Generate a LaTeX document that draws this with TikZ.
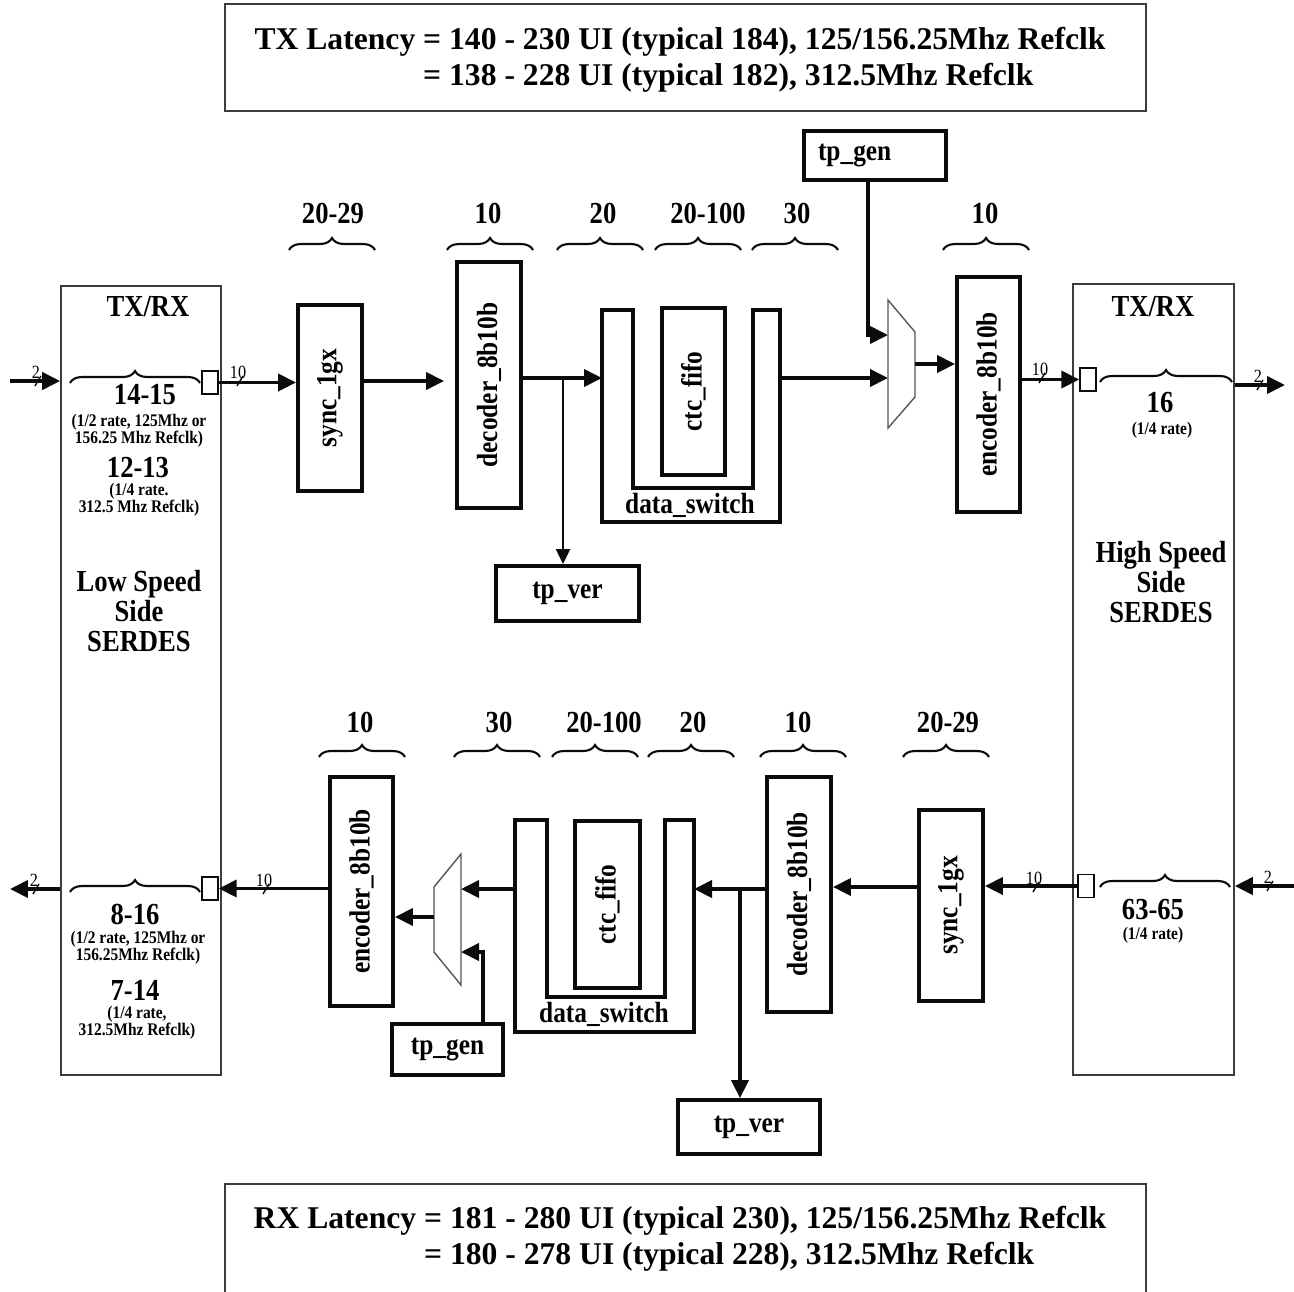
\documentclass[tikz,border=0pt]{standalone}
\usepackage{fontspec}
\setmainfont{Liberation Serif}
\newfontfamily\condfont{Liberation Serif}[FakeStretch=0.87]
\usetikzlibrary{arrows.meta,decorations.pathreplacing}
\definecolor{cink}{HTML}{0B0B0B}
\definecolor{cgray}{HTML}{555555}

\begin{document}
\begin{tikzpicture}[x=0.1mm, y=-0.1mm,
  blk/.style={draw=cink, line width=1.1pt, inner sep=0pt, font=\condfont\fontsize{8.3}{9}\selectfont\bfseries},
  serdes/.style={draw=cink!80, line width=0.45pt},
  port/.style={draw=cink, line width=0.4pt, minimum width=1.6mm, minimum height=2.3mm, inner sep=0pt},
  arr/.style={cink, line width=1.1pt, -{Triangle[length=1.8mm,width=1.7mm]}},
  thinarr/.style={cink, line width=0.6pt, -{Triangle[length=1.5mm,width=1.4mm]}},
  brc/.style={decorate, decoration={brace, amplitude=1.2mm}, cink, line width=0.6pt},
  lbl/.style={font=\condfont\fontsize{8.7}{8.6}\selectfont\bfseries, inner sep=0pt},
  notetext/.style={font=\condfont\fontsize{5.05}{4.8}\selectfont\bfseries, align=center, inner sep=0pt},
  buswd/.style={font=\condfont\fontsize{5.3}{5.5}\selectfont, inner sep=0pt},
  lat/.style={font=\fontsize{9}{10.2}\selectfont\bfseries, inner sep=0pt},
  mux/.style={draw=cgray, line width=0.4pt}
]
\useasboundingbox (0,0) rectangle (1294,1291);
%% latency boxes
\draw[serdes] (225,4) rectangle (1146,111);
\node[lat] (txlat) at (680,60) {\begin{tabular}{@{}r@{ }l@{}}TX Latency & = 140 - 230 UI (typical 184), 125/156.25Mhz Refclk\\ & = 138 - 228 UI (typical 182), 312.5Mhz Refclk\end{tabular}};
\draw[serdes] (225,1300) |- (1146,1184) -- (1146,1300);
\node[lat] (rxlat) at (680,1239) {\begin{tabular}{@{}r@{ }l@{}}RX Latency & = 181 - 280 UI (typical 230), 125/156.25Mhz Refclk\\ & = 180 - 278 UI (typical 228), 312.5Mhz Refclk\end{tabular}};

%% the two SERDES
\node[serdes, minimum width=16mm, minimum height=78.9mm, inner sep=0pt] (lsser) at (141,680.5) {};
\node[serdes, minimum width=16.1mm, minimum height=79.1mm, inner sep=0pt] (rsser) at (1153.5,679.5) {};
\node[lbl] (ltitle) at (148,307) {TX/RX};
\node[lbl] (lr1) at (145,395) {14-15};
\node[notetext] (ln1) at (139,431) {(1/2 rate, 125Mhz or\\ 156.25 Mhz Refclk)};
\node[lbl] (lr2) at (138,468) {12-13};
\node[notetext] (ln2) at (139,500) {(1/4 rate.\\312.5 Mhz Refclk)};
\node[lbl, align=center] (lside) at (139,611) {Low Speed\\Side\\SERDES};
\node[lbl] (lr3) at (135,914) {8-16};
\node[notetext] (ln3) at (138,948) {(1/2 rate, 125Mhz or\\156.25Mhz Refclk)};
\node[lbl] (lr4) at (135,990) {7-14};
\node[notetext] (ln4) at (137,1023) {(1/4 rate,\\312.5Mhz Refclk)};
\node[lbl] (rtitle) at (1153,307) {TX/RX};
\node[lbl] (rr1) at (1160,403) {16};
\node[notetext] (rn1) at (1162,430) {(1/4 rate)};
\node[lbl, align=center] (rside) at (1161,582) {High Speed\\Side\\SERDES};
\node[lbl] (rr2) at (1153,910) {63-65};
\node[notetext] (rn2) at (1153,935) {(1/4 rate)};
\node[port] (lp1) at (210,382.5) {};
\node[port] (rp1) at (1088,379.5) {};
\node[port] (rp2) at (1086,886) {};
\node[port] (lp2) at (210,888.5) {};
\draw[brc] (70,383) -- (200,383);
\draw[brc] (1100,382) -- (1232,382);
\draw[brc] (70,892) -- (200,892);
\draw[brc] (1100,887) -- (1230,887);

%% TX path, top
\node[blk, minimum width=6.4mm, minimum height=18.6mm] (sync1) at (330,398) {\rotatebox{90}{sync\_1gx}};
\node[blk, minimum width=6.4mm, minimum height=24.6mm] (dec1) at (489,385) {\rotatebox{90}{decoder\_8b10b}};
\draw[cink, line width=1.1pt] (602,310) -- (633,310) -- (633,488) -- (753,488) -- (753,310) -- (780,310) -- (780,522) -- (602,522) -- cycle;
\node[blk, draw=none] (ds1lbl) at (690,505) {data\_switch};
\node[blk, minimum width=6.3mm, minimum height=16.7mm] (fifo1) at (693.5,391.5) {\rotatebox{90}{ctc\_fifo}};
\node[blk, minimum width=14.3mm, minimum height=5.5mm] (tpver1) at (567.5,593.5) {tp\_ver};
\node[blk, text width=11.4mm, inner xsep=1.4mm, minimum height=4.9mm, align=left] (tpgen1) at (875,155.5) {tp\_gen};
\draw[mux] (888,300) -- (915,332) -- (915,397) -- (888,428) -- cycle;
\node[blk, minimum width=6.3mm, minimum height=23.5mm] (enc1) at (988.5,394.5) {\rotatebox{90}{encoder\_8b10b}};
\coordinate (row1) at (0,381);
\coordinate (lin) at (10,381);
\coordinate (ds1in) at (602,378);
\coordinate (ds1out) at (780,378);
\coordinate (br1) at (563,378);
\coordinate (m1a) at (888,335);
\coordinate (m1b) at (888,378);
\coordinate (m1o) at (915,364);
\coordinate (rout) at (1285,385);
\draw[arr] (lin) -- (lin -| lsser.west);
\draw[arr] (lp1.east) -- (lp1.east -| sync1.west);
\draw[arr, shorten >=1.1mm] (sync1.east |- row1) -- (dec1.west |- row1);
\draw[arr] (dec1.east |- ds1in) -- (ds1in);
\draw[thinarr] (br1) -- (br1 |- tpver1.north);
\draw[arr] (ds1out) -- (m1b);
\draw[arr] ([xshift=-0.7mm]tpgen1.south) |- (m1a);
\draw[arr] (m1o) -- (m1o -| enc1.west);
\draw[arr] (enc1.east |- rp1.west) -- (rp1.west);
\draw[arr] (rout -| rsser.east) -- (rout);

%% RX path, bottom
\node[blk, minimum width=6.4mm, minimum height=19.1mm] (sync2) at (951,905.5) {\rotatebox{90}{sync\_1gx}};
\node[blk, minimum width=6.4mm, minimum height=23.5mm] (dec2) at (799,894.5) {\rotatebox{90}{decoder\_8b10b}};
\draw[cink, line width=1.1pt] (515,820) -- (547,820) -- (547,997) -- (665,997) -- (665,820) -- (694,820) -- (694,1032) -- (515,1032) -- cycle;
\node[blk, draw=none] (ds2lbl) at (604,1014) {data\_switch};
\node[blk, minimum width=6.5mm, minimum height=16.7mm] (fifo2) at (607.5,904.5) {\rotatebox{90}{ctc\_fifo}};
\node[blk, minimum width=14.2mm, minimum height=5.4mm] (tpver2) at (749,1127) {tp\_ver};
\draw[mux] (461,854) -- (434,887) -- (434,952) -- (461,985) -- cycle;
\node[blk, minimum width=6.3mm, minimum height=22.9mm] (enc2) at (361.5,891.5) {\rotatebox{90}{encoder\_8b10b}};
\node[blk, minimum width=11.1mm, minimum height=5.1mm] (tpgen2) at (447.5,1049.5) {tp\_gen};
\coordinate (row2) at (0,887);
\coordinate (rin) at (1294,886);
\coordinate (ds2in) at (694,889);
\coordinate (ds2out) at (515,889);
\coordinate (br2) at (740,889);
\coordinate (m2a) at (461,889);
\coordinate (m2b) at (461,952);
\coordinate (m2o) at (434,917);
\coordinate (lout) at (10,889);
\draw[arr] (rin) -- (rin -| rsser.east);
\draw[arr] (rp2.west) -- (rp2.west -| sync2.east);
\draw[arr] (sync2.west |- row2) -- (dec2.east |- row2);
\draw[arr] (dec2.west |- ds2in) -- (ds2in);
\draw[arr] (br2) -- (br2 |- tpver2.north);
\draw[arr] (ds2out) -- (m2a);
\draw[arr] ([xshift=3.55mm]tpgen2.north) |- (m2b);
\draw[arr] (m2o) -- (m2o -| enc2.east);
\draw[arr] (enc2.west |- lp2.east) -- (lp2.east);
\draw[arr] (lout -| lsser.west) -- (lout);

%% bus widths
\foreach \bx/\by/\bw [count=\i] in {38/381/2, 240/381/10, 1042/378/10, 1260/385/2, 1270/886/2, 1036/887/10, 266/889/10, 36/889/2} {
  \draw[cink, line width=0.4pt] ({\bx-3},{\by+5}) -- ({\bx+3},{\by-5});
  \node[buswd] (bw\i) at ({\bx-2},{\by-9}) {\bw};
}
%% latencies of the stages
\foreach \cx/\lx/\txt [count=\i] in {332/333/20-29, 490/488/10, 600/603/20, 698/708/20-100, 795/797/30, 986/985/10} {
  \node[lbl] (tb\i) at (\lx,213) {\txt};
  \draw[brc] ({\cx-43},250) -- ({\cx+43},250);
}
\foreach \cx/\lx/\txt [count=\i] in {362/360/10, 497/499/30, 595/604/20-100, 691/693/20, 803/798/10, 946/948/20-29} {
  \node[lbl] (bb\i) at (\lx,722) {\txt};
  \draw[brc] ({\cx-43},757) -- ({\cx+43},757);
}
\end{tikzpicture}
\end{document}
